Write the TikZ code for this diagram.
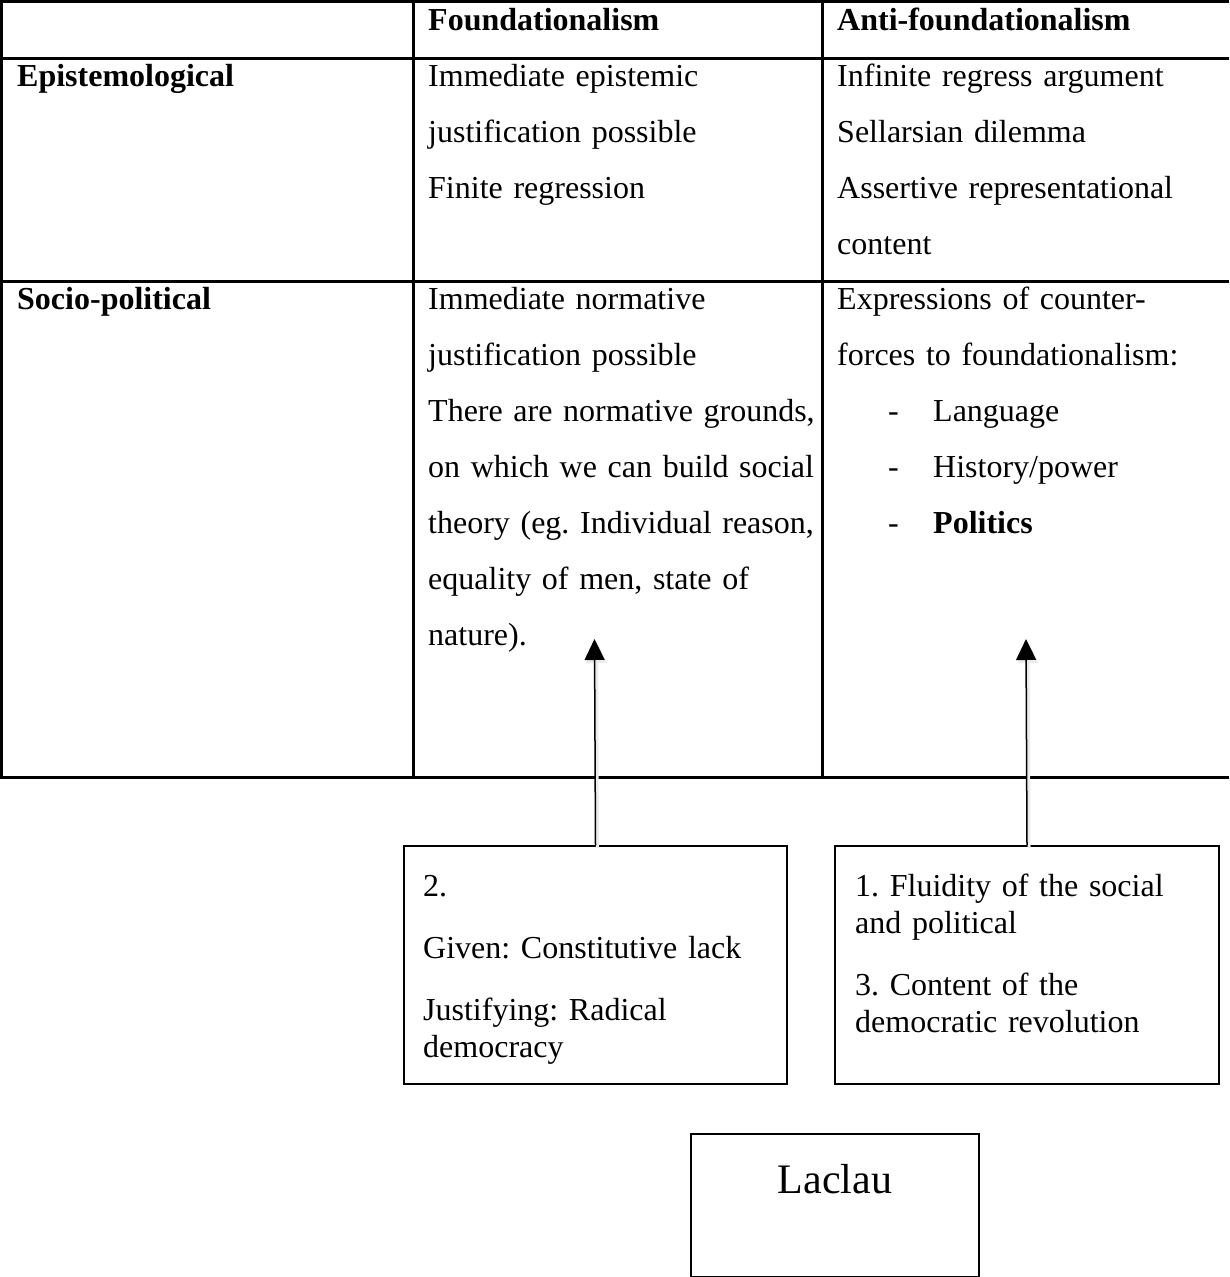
\documentclass[tikz,border=0pt]{standalone}
\usepackage{fontspec}
\setmainfont{Liberation Serif}
\usetikzlibrary{arrows.meta,positioning}
\frenchspacing

\begin{document}
\begin{tikzpicture}[x=1pt,y=-1pt,>={Triangle[width=20pt,length=21pt]}]
        \tikzstyle{cell}=[anchor=base west,inner sep=0,align=left,font=\fontsize{32}{56}\selectfont]
        \tikzstyle{head}=[cell,font=\fontsize{32}{56}\selectfont\bfseries]
        \tikzstyle{grid}=[draw,line width=3pt]
        \tikzstyle{note}=[draw,line width=2pt,inner sep=0,anchor=north west,minimum height=238pt]
        \tikzstyle{notetext}=[anchor=base west,inner sep=0,align=left,font=\fontsize{32}{37}\selectfont]
        \tikzstyle{link}=[draw,line width=1.5pt,->]
        \tikzstyle{linkshadow}=[draw,line width=3pt,black!8,->]
        \useasboundingbox (0,0) rectangle (1229,1277);
       \begin{scope}
         % table rules
         \path[grid] (0,1.5) -- (1229,1.5);
         \path[grid] (0,58) -- (1229,58);
         \path[grid] (0,281) -- (1229,281);
         \path[grid] (0,777) -- (1229,777);
         \path[grid] (1.5,0) -- (1.5,778.5);
         \path[grid] (413,0) -- (413,778.5);
         \path[grid] (822,0) -- (822,778.5);
         % header
         \node [head] (hFound) at (428,30) {Foundationalism};
         \node [head] (hAnti) at (837,30) {Anti-foundationalism};
         % epistemological row
         \node [head] (epist) at (17,86) {Epistemological};
         \node [cell,text width=390pt] (epFound) at (428,86) {Immediate epistemic\\justification possible\\Finite regression};
         \node [cell,text width=390pt] (epAnti) at (837,86) {Infinite regress argument\\Sellarsian dilemma\\Assertive representational\\content};
         % socio-political row
         \node [head] (socio) at (17,309) {Socio-political};
         \node [cell,text width=392pt] (soFound) at (428,309) {Immediate normative\\justification possible\\There are normative grounds,\\on which we can build social\\theory (eg. Individual reason,\\equality of men, state of\\nature).};
         \node [cell,text width=390pt] (soAnti) at (837,309) {Expressions of counter-\\forces to foundationalism:\\\hspace*{51pt}\makebox[45pt][l]{-}Language\\\hspace*{51pt}\makebox[45pt][l]{-}History/power\\\hspace*{51pt}\makebox[45pt][l]{-}\textbf{Politics}};
        \end{scope}
       \begin{scope}
         % notes below the table
         \node [note,minimum width=383pt] (given) at (403,845) {};
         \node [note,minimum width=384pt] (fluid) at (834,845) {};
         \node [note,minimum width=288pt,minimum height=143pt] (laclau) at (690,1133) {};
         \node [notetext,text width=350pt] (givenTxt) at ([shift={(20,51)}]given.north west) {2.\\[25pt]Given: Constitutive lack\\[25pt]Justifying: Radical\\democracy};
         \node [notetext,text width=350pt] (fluidTxt) at ([shift={(21,51)}]fluid.north west) {1. Fluidity of the social\\and political\\[25pt]3. Content of the\\democratic revolution};
         \node [anchor=base,inner sep=0,font=\fontsize{42}{50}\selectfont] (laclauTxt) at ([shift={(0,60)}]laclau.north) {Laclau};
         \coordinate (givenTip) at (594.5,639);
         \coordinate (fluidTip) at (1026,639);
         \path ([shift={(2,3)}]given.north) edge[linkshadow] ([shift={(2,3)}]givenTip);
         \path ([shift={(2,3)}]fluid.north) edge[linkshadow] ([shift={(2,3)}]fluidTip);
         \path (given.north) edge[link] (givenTip);
         \path (fluid.north) edge[link] (fluidTip);
        \end{scope}
      \end{tikzpicture}
\end{document}
